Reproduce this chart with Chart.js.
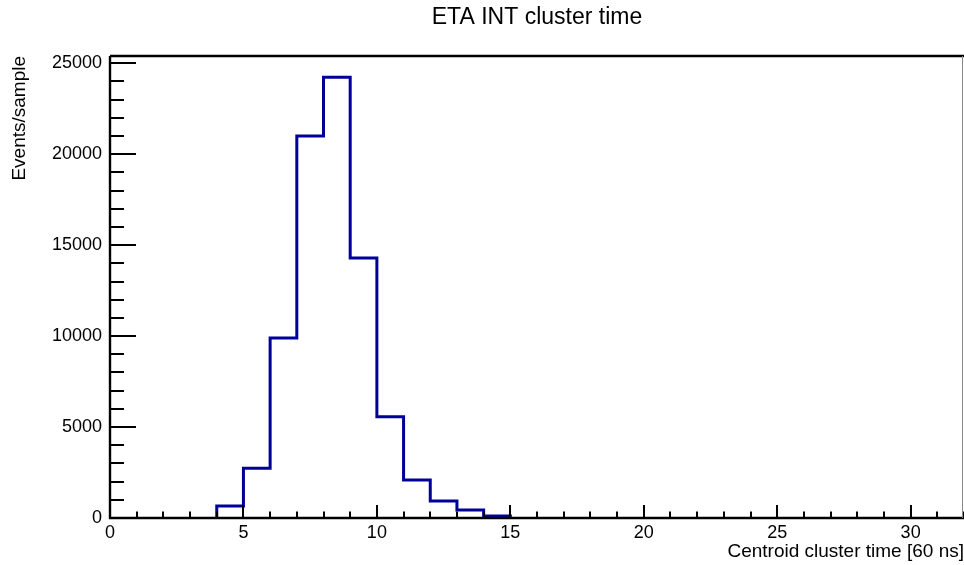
<!DOCTYPE html>
<html>
<head>
<meta charset="utf-8">
<title>ETA INT cluster time</title>
<script src="https://cdn.jsdelivr.net/npm/chart.js@4"></script>
<style>
  body { margin: 0; background: #fff; }
  canvas { display: block; }
</style>
</head>
<body>
<canvas id="hist" width="964" height="565"></canvas>
<script>
// histogram: 32 bins of width 1 starting at 0
const binStart = 0;
const binWidth = 1;
const counts = [
    0, 0, 0, 0, 660, 2730, 9900, 21000, 24230, 14300,
    5570, 2090, 935, 440, 115, 0, 0, 0, 0, 0,
    0, 0, 0, 0, 0, 0, 0, 0, 0, 0,
    0, 0
];
const xTickLabels = [0, 5, 10, 15, 20, 25, 30];
const yTickLabels = [0, 5000, 10000, 15000, 20000, 25000];

const xMax = binStart + counts.length * binWidth;
const yMax = 25400;

// build step outline from the filled bins only (zero bins sit under the axis)
function histPoints() {
    let first = counts.findIndex(c => c > 0);
    let last = counts.length - 1;
    while (last > 0 && counts[last] === 0) last--;
    const pts = [{ x: binStart + first * binWidth, y: 0 }];
    for (let i = first; i <= last; i++) {
        pts.push({ x: binStart + i * binWidth, y: counts[i] });
    }
    pts.push({ x: binStart + (last + 1) * binWidth, y: 0 });
    return pts;
}

const font = "'Liberation Sans', Arial, Helvetica, sans-serif";

// ROOT style frame: axis lines plus ticks pointing into the plot
const rootFrame = {
    id: "rootFrame",
    afterDatasetsDraw(chart) {
        const ctx = chart.ctx;
        const a = chart.chartArea;
        const xs = chart.scales.x;
        const ys = chart.scales.y;
        ctx.save();
        ctx.strokeStyle = "#000";
        ctx.lineWidth = 2;
        ctx.lineCap = "butt";

        for (let v = 0; v <= xMax; v++) {
            const px = Math.round(xs.getPixelForValue(v));
            const len = v % 5 === 0 ? 13 : 6.5;
            ctx.beginPath();
            ctx.moveTo(px, a.bottom);
            ctx.lineTo(px, a.bottom - len);
            ctx.stroke();
        }
        for (let v = 0; v <= yMax; v += 1000) {
            const py = Math.round(ys.getPixelForValue(v));
            const len = v % 5000 === 0 ? 26 : 14;
            ctx.beginPath();
            ctx.moveTo(a.left, py);
            ctx.lineTo(a.left + len, py);
            ctx.stroke();
        }

        ctx.lineWidth = 2.4;
        ctx.beginPath();
        ctx.moveTo(a.left, a.top);
        ctx.lineTo(a.left, a.bottom);
        ctx.lineTo(a.right, a.bottom);
        ctx.stroke();

        ctx.lineWidth = 2.5;
        ctx.beginPath();
        ctx.moveTo(a.left, a.top);
        ctx.lineTo(a.right, a.top);
        ctx.stroke();

        ctx.strokeStyle = "#888";
        ctx.lineWidth = 1;
        ctx.beginPath();
        ctx.moveTo(a.right - 1.5, a.top);
        ctx.lineTo(a.right - 1.5, a.bottom);
        ctx.stroke();
        ctx.restore();
    }
};

new Chart(document.getElementById("hist"), {
    type: "line",
    data: {
        datasets: [{
            data: histPoints(),
            borderColor: "#000099",
            borderWidth: 3,
            borderJoinStyle: "miter",
            pointRadius: 0,
            stepped: true,
            fill: false,
            clip: false
        }]
    },
    options: {
        responsive: false,
        animation: false,
        devicePixelRatio: 1,
        layout: { padding: 0 },
        plugins: {
            legend: { display: false },
            tooltip: { enabled: false },
            title: {
                display: true,
                fullSize: false, // centre over the plot frame like ROOT does
                text: "ETA INT cluster time",
                color: "#000",
                font: { family: font, size: 23, weight: "normal" },
                padding: { top: 4, bottom: 24.4 }
            }
        },
        scales: {
            x: {
                type: "linear",
                min: 0,
                max: xMax,
                grid: { display: false, drawTicks: false },
                border: { display: false },
                ticks: {
                    autoSkip: false,
                    maxRotation: 0,
                    padding: 4,
                    color: "#000",
                    font: { family: font, size: 18 },
                    callback: v => String(v)
                },
                afterBuildTicks: s => {
                    s.ticks = xTickLabels.map(v => ({ value: v }));
                },
                afterFit: s => { s.height = 47; },
                title: {
                    display: true,
                    text: "Centroid cluster time [60 ns]",
                    align: "end",
                    color: "#000",
                    font: { family: font, size: 19 },
                    padding: { top: 0, bottom: 2 }
                }
            },
            y: {
                type: "linear",
                min: 0,
                max: yMax,
                grid: { display: false, drawTicks: false },
                border: { display: false },
                ticks: {
                    padding: 8,
                    color: "#000",
                    font: { family: font, size: 18 },
                    callback: v => String(v)
                },
                afterBuildTicks: s => {
                    s.ticks = yTickLabels.map(v => ({ value: v }));
                },
                afterFit: s => { s.width = 110; },
                title: {
                    display: true,
                    text: "Events/sample",
                    align: "end",
                    color: "#000",
                    font: { family: font, size: 19 },
                    padding: { top: 8, bottom: 0 }
                }
            }
        }
    },
    plugins: [rootFrame]
});
</script>
</body>
</html>
